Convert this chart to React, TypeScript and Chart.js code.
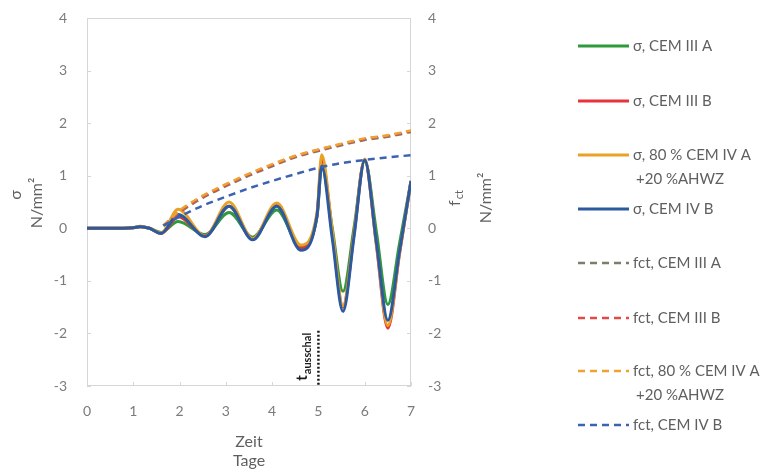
import React, { useEffect, useRef } from "react";
import { Chart, registerables } from "chart.js";

Chart.register(...registerables);

// Time axis (days) for the stress curves
const days = [0, 0.5, 1.0, 1.15, 1.35, 1.6, 1.97, 2.55, 3.07, 3.58, 4.1, 4.62, 4.97, 5.07, 5.3, 5.53, 5.77, 6.0, 6.25, 6.5, 6.75, 7.0];

// Stress σ in N/mm²
const sigmaCem3A = [0, 0, 0.01, 0.04, 0.0, -0.08, 0.13, -0.12, 0.3, -0.17, 0.35, -0.35, 0.22, 1.2, 0.0, -1.2, 0.02, 1.28, -0.05, -1.45, -0.3, 0.9];
const sigmaCem3B = [0, 0, 0.01, 0.03, 0.0, -0.1, 0.22, -0.14, 0.42, -0.2, 0.44, -0.38, 0.25, 1.32, -0.1, -1.5, -0.1, 1.3, -0.3, -1.9, -0.5, 0.9];
const sigmaCem4A = [0, 0, 0.01, 0.03, 0.0, -0.09, 0.36, -0.15, 0.5, -0.2, 0.48, -0.32, 0.3, 1.4, -0.05, -1.48, -0.1, 1.32, -0.28, -1.85, -0.48, 0.9];
const sigmaCem4B = [0, 0, 0.01, 0.03, 0.0, -0.1, 0.26, -0.16, 0.42, -0.22, 0.42, -0.42, 0.25, 1.18, -0.2, -1.58, -0.15, 1.3, -0.25, -1.75, -0.45, 0.9];

// Tensile strength fct in N/mm²
const fctDays = [1.65, 2.0, 2.5, 3.0, 3.5, 4.0, 4.5, 5.0, 5.5, 6.0, 6.5, 7.0];
const fctCem3A = [0.05, 0.3, 0.58, 0.8, 1.0, 1.18, 1.35, 1.47, 1.58, 1.68, 1.74, 1.83];
const fctCem3B = [0.05, 0.32, 0.6, 0.82, 1.02, 1.2, 1.37, 1.49, 1.6, 1.7, 1.76, 1.85];
const fctCem4A = [0.05, 0.34, 0.62, 0.84, 1.04, 1.22, 1.38, 1.5, 1.61, 1.71, 1.77, 1.86];
const fctCem4B = [0.05, 0.22, 0.43, 0.6, 0.76, 0.9, 1.03, 1.15, 1.24, 1.3, 1.35, 1.39];

// Formwork removal time (days)
const formworkRemovalDay = 5;

const xTicks = [0, 1, 2, 3, 4, 5, 6, 7];
const yTicks = [-3, -2, -1, 0, 1, 2, 3, 4];

const FONT = 'Lato, "Open Sans", sans-serif';
const TICK_COLOR = "#7b7b7b";
const TEXT_COLOR = "#5f5f5f";

const GREEN = "#2f9a3c";
const RED = "#e8323c";
const ORANGE = "#eaa226";
const BLUE = "#2c5aa0";
const OLIVE = "#7d7d6a";
const DASH_RED = "#e24a4a";
const DASH_ORANGE = "#eda232";
const DASH_BLUE = "#3b63b0";

const legendEntries = [
  { lines: ["σ, CEM III A"], color: GREEN, dashed: false, y: 46 },
  { lines: ["σ, CEM III B"], color: RED, dashed: false, y: 101 },
  { lines: ["σ, 80 % CEM IV A", "+20 %AHWZ"], color: ORANGE, dashed: false, y: 155 },
  { lines: ["σ, CEM IV B"], color: BLUE, dashed: false, y: 209 },
  { lines: ["fct, CEM III A"], color: OLIVE, dashed: true, y: 263 },
  { lines: ["fct, CEM III B"], color: DASH_RED, dashed: true, y: 318 },
  { lines: ["fct, 80 % CEM IV A", "+20 %AHWZ"], color: DASH_ORANGE, dashed: true, y: 371 },
  { lines: ["fct, CEM IV B"], color: DASH_BLUE, dashed: true, y: 425 },
];

const toPoints = (xs: number[], ys: number[]) => xs.map((x, i) => ({ x, y: ys[i] }));

const solid = (label: string, ys: number[], color: string, order: number) => ({
  label,
  data: toPoints(days, ys),
  borderColor: color,
  borderWidth: 3,
  pointRadius: 0,
  fill: false,
  cubicInterpolationMode: "monotone" as const,
  order,
  yAxisID: "y",
});

const dashed = (label: string, ys: number[], color: string, order: number) => ({
  label,
  data: toPoints(fctDays, ys),
  borderColor: color,
  borderWidth: 2.5,
  borderDash: [7, 5],
  pointRadius: 0,
  fill: false,
  cubicInterpolationMode: "monotone" as const,
  order,
  yAxisID: "y",
});

const framePlugin = {
  id: "frame",
  beforeDatasetsDraw(chart: any) {
    const { ctx, chartArea: a, scales } = chart;
    ctx.save();
    ctx.strokeStyle = "#d6d6d6";
    ctx.lineWidth = 1;
    ctx.strokeRect(a.left + 0.5, a.top + 0.5, a.width - 1, a.height - 1);
    ctx.beginPath();
    for (const v of yTicks) {
      const py = Math.round(scales.y.getPixelForValue(v)) + 0.5;
      ctx.moveTo(a.left, py);
      ctx.lineTo(a.left + 4, py);
      ctx.moveTo(a.right - 4, py);
      ctx.lineTo(a.right, py);
    }
    for (const v of xTicks) {
      const px = Math.round(scales.x.getPixelForValue(v)) + 0.5;
      ctx.moveTo(px, a.bottom);
      ctx.lineTo(px, a.bottom - 4);
    }
    ctx.stroke();
    ctx.restore();
  },
  afterDraw(chart: any) {
    const { ctx, chartArea: a, scales } = chart;
    ctx.save();

    // dotted marker for formwork removal
    const px = scales.x.getPixelForValue(formworkRemovalDay);
    ctx.strokeStyle = "#1a1a1a";
    ctx.lineWidth = 2.5;
    ctx.setLineDash([2, 2]);
    ctx.beginPath();
    ctx.moveTo(px, scales.y.getPixelForValue(-1.95));
    ctx.lineTo(px, a.bottom);
    ctx.stroke();
    ctx.setLineDash([]);

    // t_ausschal label, rotated
    ctx.save();
    ctx.translate(px - 11, scales.y.getPixelForValue(-2.9));
    ctx.rotate(-Math.PI / 2);
    ctx.fillStyle = "#1a1a1a";
    ctx.textBaseline = "alphabetic";
    ctx.textAlign = "left";
    ctx.font = `bold 15px ${FONT}`;
    ctx.fillText("t", 0, 0);
    const tw = ctx.measureText("t").width;
    ctx.font = `bold 11px ${FONT}`;
    ctx.fillText("ausschal", tw + 1, 4);
    ctx.restore();

    // axis titles
    ctx.fillStyle = TEXT_COLOR;
    ctx.textAlign = "center";
    ctx.textBaseline = "middle";

    const rotText = (text: string, x: number, y: number, size: number) => {
      ctx.save();
      ctx.translate(x, y);
      ctx.rotate(-Math.PI / 2);
      ctx.font = `${size}px ${FONT}`;
      ctx.fillText(text, 0, 0);
      ctx.restore();
    };
    rotText("σ", 16, 195, 16);
    rotText("N/mm²", 37, 203, 16);

    // right title: f with subscript ct
    ctx.save();
    ctx.translate(455, 198);
    ctx.rotate(-Math.PI / 2);
    ctx.textAlign = "left";
    ctx.font = `16px ${FONT}`;
    const fw = ctx.measureText("f").width;
    ctx.font = `11px ${FONT}`;
    const cw = ctx.measureText("ct").width;
    const start = -(fw + cw + 1) / 2;
    ctx.font = `16px ${FONT}`;
    ctx.fillText("f", start, 0);
    ctx.font = `11px ${FONT}`;
    ctx.fillText("ct", start + fw + 1, 4);
    ctx.restore();
    rotText("N/mm²", 486, 198, 16);

    // x title
    ctx.font = `16px ${FONT}`;
    const cx = (a.left + a.right) / 2;
    ctx.fillText("Zeit", cx, 442);
    ctx.fillText("Tage", cx, 461);

    // legend
    for (const e of legendEntries) {
      ctx.strokeStyle = e.color;
      ctx.lineWidth = e.dashed ? 2.5 : 3;
      ctx.setLineDash(e.dashed ? [7, 5] : []);
      ctx.beginPath();
      ctx.moveTo(578, e.y);
      ctx.lineTo(629, e.y);
      ctx.stroke();
      ctx.setLineDash([]);
      ctx.fillStyle = TEXT_COLOR;
      ctx.textAlign = "left";
      ctx.textBaseline = "middle";
      ctx.font = `15px ${FONT}`;
      e.lines.forEach((line, i) => {
        ctx.fillText(line, i === 0 ? 633 : 636, e.y + i * 24);
      });
    }
    ctx.restore();
  },
};

// Keep the plot area fixed: drop the extra half-label padding Chart.js adds
const fixVertical = (width: number) => (s: any) => {
  s.width = width;
  s.paddingTop = 0;
  s.paddingBottom = 0;
};

export default function App() {
  const canvasRef = useRef<HTMLCanvasElement | null>(null);

  useEffect(() => {
    const canvas = canvasRef.current;
    if (!canvas) return;
    const tickFont = { family: FONT, size: 14 };
    const chart = new Chart(canvas, {
      type: "line",
      data: {
        datasets: [
          dashed("fct, CEM IV B", fctCem4B, DASH_BLUE, 0),
          dashed("fct, 80 % CEM IV A +20 %AHWZ", fctCem4A, DASH_ORANGE, 1),
          dashed("fct, CEM III B", fctCem3B, DASH_RED, 2),
          dashed("fct, CEM III A", fctCem3A, OLIVE, 3),
          solid("σ, CEM IV B", sigmaCem4B, BLUE, 4),
          solid("σ, 80 % CEM IV A +20 %AHWZ", sigmaCem4A, ORANGE, 5),
          solid("σ, CEM III B", sigmaCem3B, RED, 6),
          solid("σ, CEM III A", sigmaCem3A, GREEN, 7),
        ],
      },
      options: {
        animation: false,
        responsive: false,
        devicePixelRatio: 1,
        layout: { padding: { left: 0, top: 18, right: 316, bottom: 47 } },
        plugins: { legend: { display: false }, tooltip: { enabled: false } },
        scales: {
          x: {
            type: "linear",
            min: 0,
            max: 7,
            afterBuildTicks: (s: any) => {
              s.ticks = xTicks.map((v) => ({ value: v }));
            },
            afterFit: (s: any) => {
              s.height = 40;
              s.paddingLeft = 0;
              s.paddingRight = 0;
            },
            ticks: { color: TICK_COLOR, font: tickFont, padding: 17 },
            grid: { display: false, drawTicks: false },
            border: { display: false },
          },
          y: {
            position: "left",
            min: -3,
            max: 4,
            afterBuildTicks: (s: any) => {
              s.ticks = yTicks.map((v) => ({ value: v }));
            },
            afterFit: fixVertical(87),
            ticks: { color: TICK_COLOR, font: tickFont, padding: 20 },
            grid: { display: false, drawTicks: false },
            border: { display: false },
          },
          y2: {
            position: "right",
            min: -3,
            max: 4,
            afterBuildTicks: (s: any) => {
              s.ticks = yTicks.map((v) => ({ value: v }));
            },
            afterFit: fixVertical(40),
            ticks: { color: TICK_COLOR, font: tickFont, padding: 17 },
            grid: { display: false, drawTicks: false },
            border: { display: false },
          },
        },
      },
      plugins: [framePlugin],
    });
    return () => chart.destroy();
  }, []);

  return (
    <div style={{ position: "absolute", left: 0, top: 0, width: 767, height: 473, background: "#fff" }}>
      <canvas ref={canvasRef} width={767} height={473} style={{ display: "block" }} />
    </div>
  );
}
